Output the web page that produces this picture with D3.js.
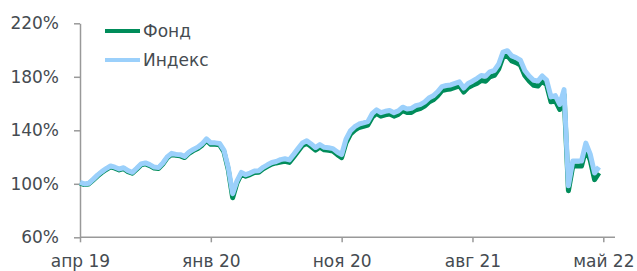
<!DOCTYPE html>
<html>
<head>
<meta charset="utf-8">
<script src="https://cdn.jsdelivr.net/npm/d3@7"></script>
<style>
  body { margin: 0; background: #fff; }
  svg text { font-family: "DejaVu Sans", sans-serif; fill: #454b51; }
</style>
</head>
<body>
<svg id="chart" width="637" height="271"></svg>
<script>
// index values, % of start (one point per ~week)
const indexVals = [
  101.0, 99.9, 100.4, 103.3, 106.5, 109.1, 111.4, 113.3, 112.4, 111.1,
  112.0, 109.8, 108.6, 111.6, 114.8, 115.6, 114.3, 112.5, 112.1, 115.5,
  120.1, 122.8, 122.0, 121.8, 120.5, 123.7, 125.7, 127.4, 129.9, 133.6,
  130.6, 130.6, 130.2, 125.2, 112.1, 92.6, 102.2, 108.5, 106.8, 108.0,
  109.6, 109.8, 112.3, 114.2, 115.9, 116.7, 118.1, 118.7, 117.9, 122.0,
  126.3, 130.5, 132.2, 129.8, 127.1, 129.3, 127.3, 126.9, 126.3, 123.8,
  121.9, 133.3, 139.6, 142.7, 144.7, 145.5, 146.5, 152.4, 155.3, 153.2,
  154.2, 154.8, 153.2, 154.5, 157.3, 155.9, 156.4, 158.4, 159.2, 161.1,
  164.1, 165.8, 168.8, 172.6, 173.5, 173.9, 175.1, 176.2, 171.6, 175.0,
  176.7, 178.7, 181.0, 180.4, 183.7, 184.7, 189.4, 198.5, 199.5, 195.6,
  194.3, 192.4, 184.7, 180.6, 177.4, 176.8, 180.6, 177.6, 165.0, 165.9,
  159.3, 170.4, 98.5, 117.0, 117.0, 117.0, 130.4, 122.2, 108.1, 112.6
];

// fund values
const fundVals = [
  100.5, 99.4, 99.9, 102.8, 105.8, 108.4, 110.7, 112.6, 111.7, 110.4,
  111.3, 109.1, 107.9, 110.9, 114.1, 114.9, 113.6, 111.8, 111.4, 114.8,
  119.4, 122.1, 121.3, 120.9, 119.6, 122.8, 124.8, 126.4, 128.9, 132.5,
  129.5, 129.5, 129.1, 124.1, 110.6, 89.6, 100.7, 107.4, 105.7, 106.9,
  108.5, 108.7, 111.2, 113.1, 114.8, 115.6, 116.2, 116.8, 116.0, 120.1,
  124.4, 128.6, 130.3, 127.9, 125.2, 127.4, 125.4, 125.0, 124.4, 121.8,
  119.6, 130.7, 137.0, 140.1, 142.1, 142.9, 143.9, 149.8, 152.7, 150.6,
  151.6, 152.2, 150.6, 151.9, 154.7, 153.3, 153.4, 155.4, 156.2, 158.1,
  161.1, 162.8, 165.8, 169.6, 170.5, 170.9, 172.1, 173.2, 168.6, 172.0,
  173.7, 175.0, 177.3, 176.7, 180.0, 181.0, 185.7, 194.8, 195.8, 191.9,
  190.6, 188.7, 181.0, 176.9, 173.7, 173.1, 176.9, 173.9, 161.3, 162.2,
  155.6, 166.7, 94.8, 113.3, 113.3, 113.3, 125.9, 117.7, 103.1, 108.1
];

const xTickPos = [0, 30, 60, 90, 120];
const xTickLabels = ["апр 19", "янв 20", "ноя 20", "авг 21", "май 22"];
const yTicks = [60, 100, 140, 180, 220];
const seriesNames = ["Фонд", "Индекс"];
const colors = ["#008c5a", "#9bd0fb"];

const svg = d3.select("#chart");

const x = d3.scaleLinear().domain([0, 120]).range([80, 603.3]);
const y = d3.scaleLinear().domain([60, 220]).range([237.3, 23.3]);

// axes
const xAxis = svg.append("g")
    .attr("transform", "translate(0,237.3)")
    .call(d3.axisBottom(x).tickValues(xTickPos)
        .tickFormat((d, i) => xTickLabels[i]).tickSize(5).tickPadding(13).tickSizeOuter(0));
xAxis.select(".domain").attr("d", "M80,0H615");

const yAxis = svg.append("g")
    .attr("transform", "translate(80,0)")
    .call(d3.axisLeft(y).tickValues(yTicks)
        .tickFormat(d => d + "%").tickSize(6).tickPadding(15).tickSizeOuter(0));

svg.selectAll(".domain, .tick line").attr("stroke", "#999").attr("stroke-width", 1.5);
svg.selectAll(".tick text").attr("font-size", 17).attr("fill", "#454b51")
    .style("font-family", "'DejaVu Sans', sans-serif");

// lines
const line = d3.line().x((d, i) => x(i)).y(d => y(d));

[fundVals, indexVals].forEach((vals, k) => {
  svg.append("path")
      .datum(vals)
      .attr("fill", "none")
      .attr("stroke", colors[k])
      .attr("stroke-width", 5)
      .attr("stroke-linejoin", "round")
      .attr("d", line);
});

// legend
const legend = svg.append("g");
seriesNames.forEach((name, k) => {
  const ly = 31 + k * 29;
  legend.append("line")
      .attr("x1", 105).attr("x2", 140).attr("y1", ly).attr("y2", ly)
      .attr("stroke", colors[k]).attr("stroke-width", 4);
  legend.append("text")
      .attr("x", 143).attr("y", ly + 6)
      .attr("font-size", 17)
      .text(name);
});
</script>
</body>
</html>
